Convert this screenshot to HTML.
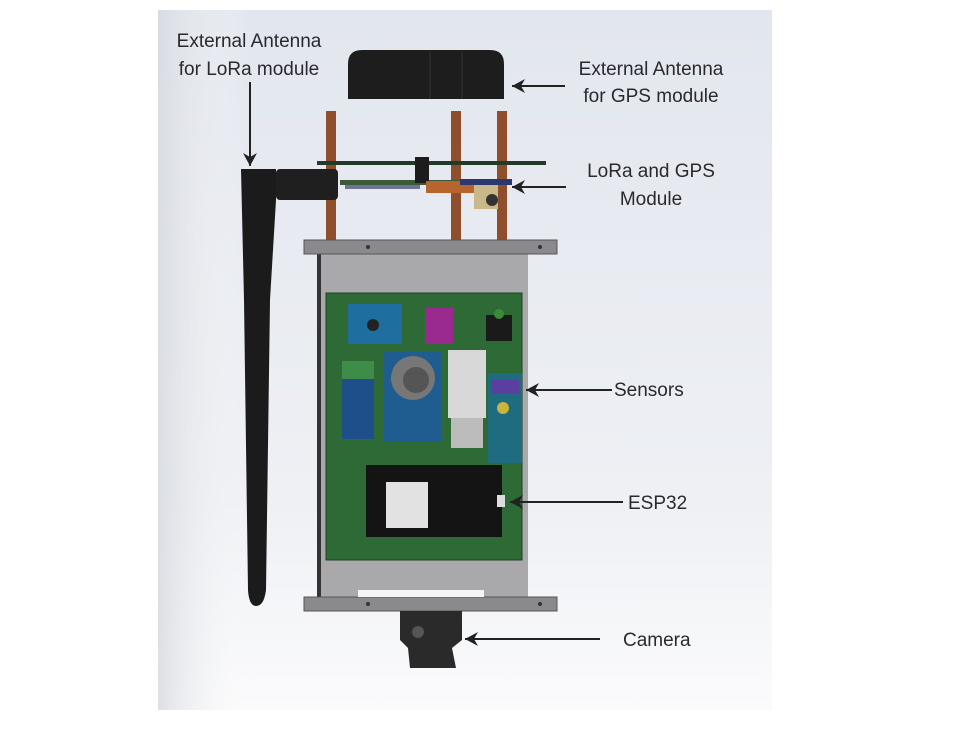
<!DOCTYPE html>
<html><head><style>
html,body{margin:0;padding:0;background:#fff;width:967px;height:736px;overflow:hidden}
svg{display:block}
text{font-family:"Liberation Sans",sans-serif;font-size:19px;fill:#2a2a2e}
</style></head><body>
<svg width="967" height="736" viewBox="0 0 967 736" xmlns="http://www.w3.org/2000/svg">
<defs>
<linearGradient id="bg" x1="0" y1="0" x2="0" y2="1">
<stop offset="0" stop-color="#e2e6ee"/><stop offset="0.7" stop-color="#eef0f4"/><stop offset="1" stop-color="#fbfbfc"/>
</linearGradient>
<linearGradient id="bgl" x1="0" y1="0" x2="1" y2="0">
<stop offset="0" stop-color="#d6d9df" stop-opacity="0.8"/><stop offset="0.15" stop-color="#fff" stop-opacity="0"/>
</linearGradient>
<marker id="ah" markerWidth="14" markerHeight="14" refX="13" refY="7" orient="auto" markerUnits="userSpaceOnUse">
<path d="M13,7 L0,0 L4,7 L0,14 Z" fill="#222"/>
</marker>
</defs>
<rect x="158" y="10" width="614" height="700" fill="url(#bg)"/>
<rect x="158" y="10" width="614" height="700" fill="url(#bgl)"/>

<!-- GPS antenna -->
<path d="M348,99 L348,64 Q348,50 362,50 L490,50 Q504,50 504,64 L504,99 Z" fill="#1d1d1d"/>
<line x1="430" y1="52" x2="430" y2="99" stroke="#333" stroke-width="1"/>
<line x1="462" y1="52" x2="462" y2="99" stroke="#333" stroke-width="1"/>

<!-- posts -->
<rect x="326" y="111" width="10" height="131" fill="#8f4f2c"/>
<rect x="451" y="111" width="10" height="131" fill="#8f4f2c"/>
<rect x="497" y="111" width="10" height="131" fill="#8f4f2c"/>

<!-- boards -->
<rect x="317" y="161" width="229" height="4" fill="#223a2a"/>
<rect x="340" y="180" width="130" height="5" fill="#3b5a3b"/>
<rect x="345" y="185" width="75" height="4" fill="#6f7590"/>
<rect x="415" y="157" width="14" height="26" fill="#1c1c1c"/>
<rect x="426" y="181" width="50" height="12" fill="#b8642f"/>
<rect x="460" y="179" width="52" height="6" fill="#2b3870"/>
<rect x="474" y="185" width="24" height="24" fill="#c8b88a"/>
<circle cx="492" cy="200" r="6" fill="#333"/>

<!-- LoRa antenna -->
<rect x="276" y="169" width="62" height="31" rx="4" fill="#1f1f1f"/>
<path d="M241,169 L276,169 L276,200 L270,300 L266,590 Q264,606 256,606 Q249,606 248,590 L244,300 Z" fill="#1b1b1b"/>

<!-- enclosure -->
<rect x="317" y="254" width="211" height="343" fill="#a9a9ab"/>
<rect x="317" y="254" width="4" height="343" fill="#333"/>
<rect x="304" y="240" width="253" height="14" fill="#8a8a8c" stroke="#555" stroke-width="1"/>
<rect x="304" y="597" width="253" height="14" fill="#8a8a8c" stroke="#555" stroke-width="1"/>
<rect x="358" y="590" width="126" height="7" fill="#f4f4f4"/>
<circle cx="368" cy="247" r="2" fill="#333"/><circle cx="540" cy="247" r="2" fill="#333"/>
<circle cx="368" cy="604" r="2" fill="#333"/><circle cx="540" cy="604" r="2" fill="#333"/>

<!-- green pcb -->
<rect x="326" y="293" width="196" height="267" fill="#2d6a36" stroke="#1e3f22"/>
<rect x="348" y="304" width="54" height="40" fill="#1e6fa0"/>
<circle cx="373" cy="325" r="6" fill="#222"/>
<rect x="425" y="308" width="28" height="36" fill="#9a2a8e"/>
<rect x="486" y="315" width="26" height="26" fill="#1a1a1a"/>
<circle cx="499" cy="314" r="5" fill="#3a8a3a"/>
<rect x="342" y="361" width="32" height="18" fill="#3f8c4a"/>
<rect x="342" y="379" width="32" height="60" fill="#1f4f8a"/>
<rect x="384" y="352" width="57" height="90" fill="#1f5c8f"/>
<circle cx="413" cy="378" r="22" fill="#777"/><circle cx="416" cy="380" r="13" fill="#555"/>
<rect x="448" y="350" width="38" height="68" fill="#d8d8d8"/>
<rect x="451" y="418" width="32" height="30" fill="#bcbcbc"/>
<rect x="488" y="373" width="34" height="90" fill="#1f6b80"/>
<rect x="491" y="380" width="28" height="14" fill="#5a3fa0"/>
<circle cx="503" cy="408" r="6" fill="#c9b53a"/>
<rect x="366" y="465" width="136" height="72" fill="#141414"/>
<rect x="386" y="482" width="42" height="46" fill="#e2e2e2"/>
<rect x="497" y="495" width="8" height="12" fill="#ddd"/>

<!-- camera -->
<path d="M400,611 L462,611 L462,640 L452,648 L456,668 L410,668 L408,648 L400,640 Z" fill="#2a2a2a"/>
<circle cx="418" cy="632" r="6" fill="#555"/>

<!-- arrows -->
<line x1="250" y1="82" x2="250" y2="166" stroke="#222" stroke-width="2" marker-end="url(#ah)"/>
<line x1="565" y1="86" x2="512" y2="86" stroke="#222" stroke-width="2" marker-end="url(#ah)"/>
<line x1="566" y1="187" x2="512" y2="187" stroke="#222" stroke-width="2" marker-end="url(#ah)"/>
<line x1="612" y1="390" x2="526" y2="390" stroke="#222" stroke-width="2" marker-end="url(#ah)"/>
<line x1="623" y1="502" x2="510" y2="502" stroke="#222" stroke-width="2" marker-end="url(#ah)"/>
<line x1="600" y1="639" x2="465" y2="639" stroke="#222" stroke-width="2" marker-end="url(#ah)"/>

<!-- labels -->
<text x="249" y="47" text-anchor="middle">External Antenna</text>
<text x="249" y="75" text-anchor="middle">for LoRa module</text>
<text x="651" y="75" text-anchor="middle">External Antenna</text>
<text x="651" y="102" text-anchor="middle">for GPS module</text>
<text x="651" y="177" text-anchor="middle">LoRa and GPS</text>
<text x="651" y="205" text-anchor="middle">Module</text>
<text x="614" y="396">Sensors</text>
<text x="628" y="509">ESP32</text>
<text x="623" y="646">Camera</text>
</svg>
</body></html>
